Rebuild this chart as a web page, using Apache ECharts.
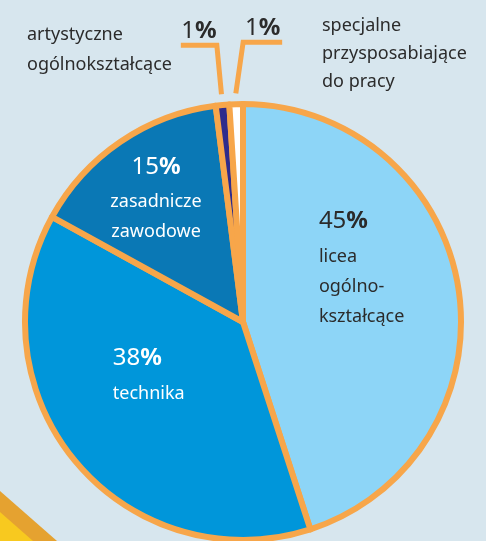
<!DOCTYPE html>
<html>
<head>
<meta charset="utf-8">
<script src="https://cdn.jsdelivr.net/npm/echarts@6/dist/echarts.min.js"></script>
<style>
  html, body { margin: 0; padding: 0; background: #d7e6ee; }
  #chartdiv { width: 486px; height: 541px; }
</style>
</head>
<body>
<div id="chartdiv"></div>
<script>
const SCHOOLS = [
  "licea\nogólno-\nkształcące",
  "technika",
  "zasadnicze\nzawodowe",
  "artystyczne ogólnokształcące",
  "specjalne przysposabiające do pracy"
];
const SHARES = [45, 38, 15, 1, 1];
const COLORS = ["#8dd5f7", "#0096da", "#0a78b5", "#2f2c8c", "#ffffff"];
const TEXT_COLORS = ["#2b2b2b", "#ffffff", "#ffffff", "#2b2b2b", "#2b2b2b"];
// small slices get an outside label with leader line
const OUTSIDE = [false, false, false, true, true];
// nudges for inside labels
const SHIFT = [[8, -38], [-8, -20], [-24, -32], [0, 0], [0, 0]];
const ALIGN = ["left", "left", "center", "center", "center"];

const ORANGE = "#f7a64a";
const FONT = "'Noto Sans', sans-serif";

function labelText(i) {
  const pct = `{n|${SHARES[i]}}{p|%}`;
  if (OUTSIDE[i]) return pct;
  return pct + "\n" + SCHOOLS[i].split("\n").map(s => `{t|${s}}`).join("\n");
}

const pieData = SHARES.map((v, i) => ({
  name: SCHOOLS[i],
  value: v,
  itemStyle: { color: COLORS[i] },
  label: {
    position: OUTSIDE[i] ? "outside" : "inside",
    align: ALIGN[i],
    formatter: labelText(i),
    rich: {
      n: { fontSize: 24, color: TEXT_COLORS[i], fontFamily: FONT, lineHeight: 40, align: ALIGN[i] },
      p: { fontSize: 24, color: TEXT_COLORS[i], fontFamily: FONT, fontWeight: "bold", lineHeight: 40, align: ALIGN[i] },
      t: { fontSize: 18, color: TEXT_COLORS[i], fontFamily: FONT, lineHeight: 30, align: ALIGN[i] }
    }
  },
  labelLine: { show: OUTSIDE[i] }
}));

const chart = echarts.init(document.getElementById("chartdiv"));

chart.setOption({
  backgroundColor: "#d7e6ee",
  animation: false,
  graphic: [
    // pencil corner
    { type: "polygon", shape: { points: [[0, 491], [57, 541], [0, 541]] }, style: { fill: "#e5a230" } },
    { type: "polygon", shape: { points: [[0, 512], [33, 541], [0, 541]] }, style: { fill: "#f8c91f" } },
    {
      type: "text", left: 27, top: 20,
      style: { text: "artystyczne\nogólnokształcące", fill: "#2b2b2b", font: "18px " + FONT, lineHeight: 30 }
    },
    {
      type: "text", left: 322, top: 12,
      style: { text: "specjalne\nprzysposabiające\ndo pracy", fill: "#2b2b2b", font: "18px " + FONT, lineHeight: 28 }
    }
  ],
  series: [
    {
      type: "pie",
      center: [243, 322],
      radius: 218,
      startAngle: 90,
      clockwise: true,
      avoidLabelOverlap: false,
      data: pieData,
      itemStyle: { borderColor: ORANGE, borderWidth: 6 },
      label: { show: true },
      labelLine: {
        length: 60,
        length2: 36,
        lineStyle: { color: ORANGE, width: 5 }
      },
      labelLayout: params => {
        const i = params.dataIndex;
        if (!OUTSIDE[i]) {
          return { dx: SHIFT[i][0], dy: SHIFT[i][1] };
        }
        const pts = params.labelLinePoints;
        if (!pts) return {};
        const p0 = pts[0], p1 = pts[1], p2 = pts[2];
        const len2 = Math.abs(p2[0] - p1[0]);
        // leave a gap above the pie
        const start = [p0[0] + (p1[0] - p0[0]) * 0.18, p0[1] + (p1[1] - p0[1]) * 0.18];
        let elbow = p1;
        let end = p2;
        if (i === SHARES.length - 1) {
          // last slice: send the leader to the right side
          elbow = [p0[0] + 7, p1[1] - 2];
          end = [elbow[0] + len2 + 3, elbow[1]];
        }
        return {
          x: (elbow[0] + end[0]) / 2,
          y: elbow[1] + 6,
          align: "center",
          verticalAlign: "bottom",
          labelLinePoints: [start, elbow, end]
        };
      }
    }
  ]
});
</script>
</body>
</html>
